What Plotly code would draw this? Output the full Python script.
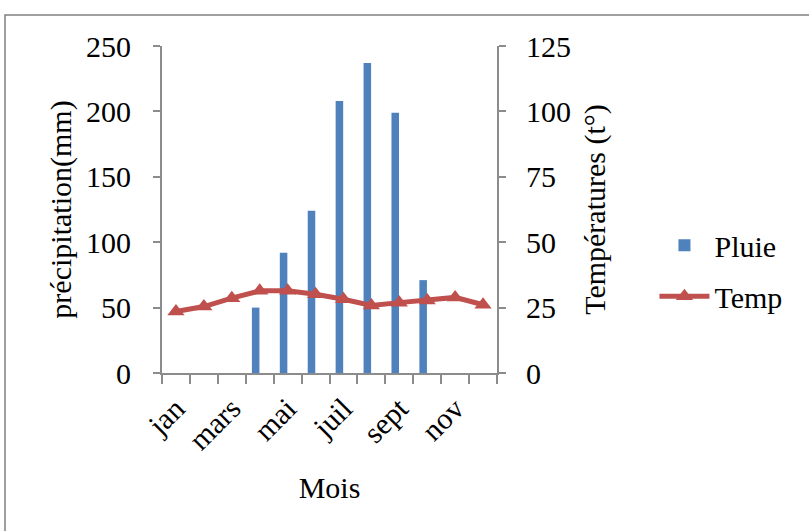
import plotly.graph_objects as go

months = ["jan", "fév", "mars", "avr", "mai", "juin", "juil", "août", "sept", "oct", "nov", "déc"]
pluie = [0, 0, 0, 50, 92, 124, 208, 237, 199, 71, 0, 0]
temp = [23.5, 25.4, 28.6, 31.4, 31.4, 30.1, 28.2, 25.8, 26.9, 27.7, 28.9, 26.1]
shown_labels = ["jan", "mars", "mai", "juil", "sept", "nov"]

idx = list(range(len(months)))
tick_idx = [months.index(m) for m in shown_labels]
boundaries = [i - 0.5 for i in idx] + [len(months) - 0.5]

FONT = "Liberation Serif, Times New Roman, serif"
AX = "#8c8c8c"
FS = 30

fig = go.Figure()
fig.add_trace(go.Bar(
    x=idx, y=pluie, name="Pluie", marker_color="#4F81BD",
    marker_line_width=0, width=0.27, offset=-0.28,
    legendgroup="a", yaxis="y"))
fig.add_trace(go.Scatter(
    x=idx, y=temp, name="Temp", mode="lines+markers",
    line=dict(color="#C0504D", width=5),
    marker=dict(symbol="triangle-up", size=15, color="#C0504D"),
    legendgroup="b", yaxis="y2"))

fig.update_layout(
    width=809, height=531,
    margin=dict(l=162, r=312, t=46, b=158),
    plot_bgcolor="white", paper_bgcolor="white",
    font=dict(family=FONT, size=FS, color="black"),
    showlegend=True,
    legend=dict(x=1.47, y=0.47, xanchor="left", yanchor="top",
                font=dict(size=FS), tracegroupgap=9, itemwidth=50,
                bgcolor="rgba(0,0,0,0)"),
    xaxis=dict(
        range=[-0.5, len(months) - 0.5], tickmode="array",
        tickvals=tick_idx, ticktext=shown_labels, tickangle=-45,
        ticks="", showline=True, linecolor=AX, linewidth=2,
        showgrid=False, zeroline=False,
        minor=dict(tickmode="array", tickvals=boundaries, ticks="outside",
                   ticklen=9, tickcolor=AX, tickwidth=2, showgrid=False),
        title=dict(text="Mois", font=dict(size=FS), standoff=22),
        tickfont=dict(size=FS), ticklabelstandoff=4),
    yaxis=dict(
        range=[0, 250], dtick=50, ticks="outside", ticklen=7,
        tickcolor=AX, tickwidth=2, showline=True, linecolor=AX, linewidth=2,
        showgrid=False, zeroline=False, ticklabelstandoff=16,
        title=dict(text="précipitation(mm)", font=dict(size=FS), standoff=6),
        tickfont=dict(size=FS)),
    yaxis2=dict(
        range=[0, 125], dtick=25, overlaying="y", side="right",
        ticks="outside", ticklen=7, tickcolor=AX, tickwidth=2,
        showline=True, linecolor=AX, linewidth=2, ticklabelstandoff=14,
        showgrid=False, zeroline=False,
        title=dict(text="Températures (t°)", font=dict(size=FS), standoff=14),
        tickfont=dict(size=FS)),
    shapes=[dict(type="rect", xref="paper", yref="paper",
                 x0=(5 - 162) / 335, x1=1 + (815 - 497) / 335,
                 y0=-(540 - 373) / 327, y1=1 + (46 - 15) / 327,
                 line=dict(color="#808080", width=1.5), layer="below")],
)

fig.write_html("out.html")
